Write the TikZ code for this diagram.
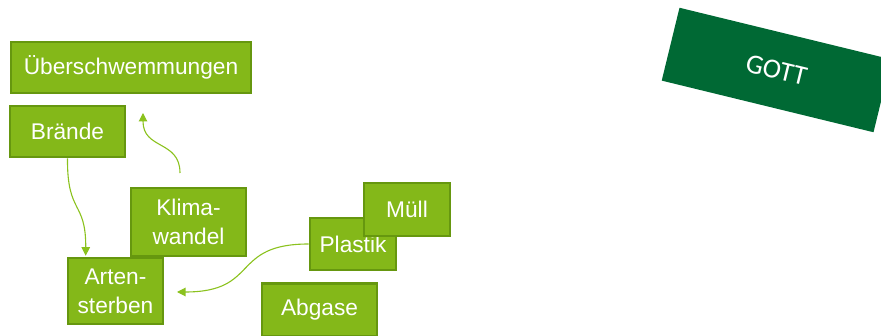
\documentclass[tikz,border=0pt]{standalone}
\usepackage{fontspec}
\setmainfont{Liberation Sans}
\newfontfamily\gottfont{Carlito}
\usetikzlibrary{arrows.meta,calc}
\definecolor{boxfill}{HTML}{84B819}
\definecolor{boxline}{HTML}{66970F}
\definecolor{arrowcol}{HTML}{8BC21E}
\definecolor{gottgreen}{HTML}{006934}
\tikzset{
  gbox/.style={draw=boxline, line width=2.6pt, fill=boxfill, text=white, inner sep=0pt,
    align=center, font=\fontsize{22.7}{29}\selectfont},
  conn/.style={draw=arrowcol, line width=1.1pt, -{Triangle[length=8.5pt,width=8.5pt]}}
}
\begin{document}
\begin{tikzpicture}[x=1pt,y=-1pt]
\useasboundingbox (0,0) rectangle (881,336);
\clip (0,0) rectangle (881,336);
% GOTT
\node[rotate=-13.7, fill=gottgreen, minimum width=218pt, minimum height=75pt, inner sep=0pt,
  text=white, font=\gottfont\fontsize{27.5}{30}\selectfont] (gott) at (776.5,70) {GOTT};
% boxes
\node[gbox, minimum width=240pt, minimum height=51pt] (ueb) at (131,67.5) {Überschwemmungen};
\node[gbox, minimum width=115pt, minimum height=51pt] (brande) at (67.5,131.5) {Brände};
\node[gbox, minimum width=115pt, minimum height=68pt] (klima) at (188.5,222) {Klima-\\wandel};
\node[gbox, minimum width=95pt, minimum height=66pt] (arten) at (115.5,291) {Arten-\\sterben};
\node[gbox, minimum width=86pt, minimum height=52pt] (plastik) at (353,244) {Plastik};
\node[gbox, minimum width=86pt, minimum height=53pt] (muell) at (407,209.5) {Müll};
\node[gbox, minimum width=115pt, minimum height=53pt] (abgase) at (319.5,310) {Abgase};
% connector ends
\coordinate (k1) at (180,173);
\coordinate (k2) at (143,113);
\coordinate (a1) at ($(arten.north west)+(19,-1)$);
\coordinate (a2) at (177,292);
% connectors
\draw[conn] (k1) .. controls (180,140) and (143,150) .. (k2);
\draw[conn] (brande.south) .. controls (67,215) and (86,200) .. (a1);
\draw[conn] (plastik.west) .. controls (230,244) and (260,292) .. (a2);
\end{tikzpicture}
\end{document}
